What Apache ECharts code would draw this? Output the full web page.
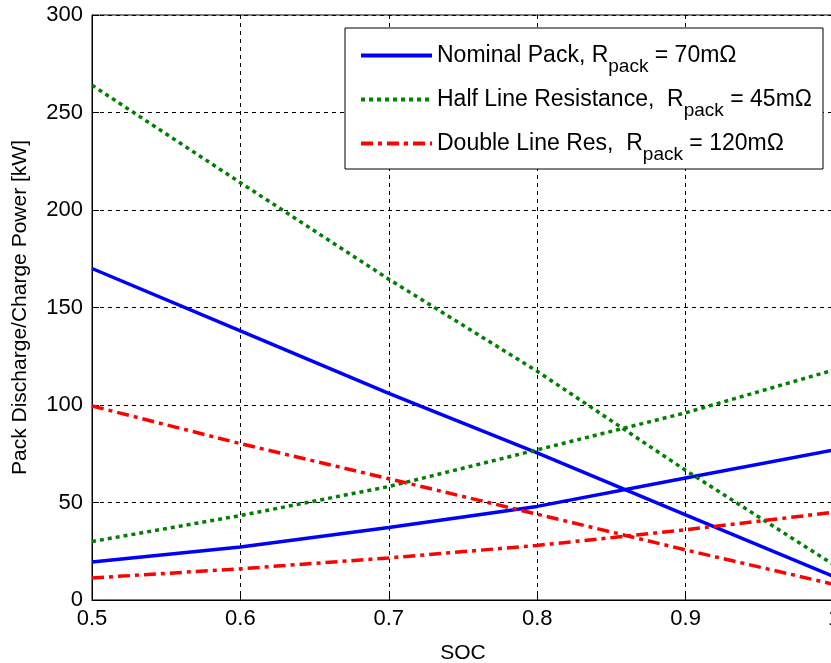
<!DOCTYPE html>
<html>
<head>
<meta charset="utf-8">
<script src="https://cdn.jsdelivr.net/npm/echarts@6/dist/echarts.min.js"></script>
<style>
  html, body { margin: 0; padding: 0; background: #fff; }
  #chart { width: 831px; height: 663px; }
</style>
</head>
<body>
<div id="chart"></div>
<script>
// SOC points
const soc = [0.5, 0.6, 0.7, 0.8, 0.9, 1.0]

// nominal pack, 70 mOhm
const nominalDischarge = [170, 138, 106, 75.5, 43.7, 12]
const nominalCharge = [19.5, 27.2, 37.2, 48, 62.6, 77]
// half line resistance, 45 mOhm
const halfDischarge = [264, 214, 164.5, 117.3, 66.5, 18]
const halfCharge = [30, 43.3, 58.2, 77, 96, 118]
// double line resistance, 120 mOhm
const doubleDischarge = [99.5, 80.2, 62.2, 44, 25.7, 8]
const doubleCharge = [11.3, 16, 21.6, 28, 36, 45]

const legendNames = ['Nominal Pack', 'Half Line Resistance', 'Double Line Res']
const legendText = {
  'Nominal Pack': '{a|Nominal Pack, R}{s|pack}{a| = 70m\u03A9}',
  'Half Line Resistance': '{a|Half Line Resistance,  R}{s|pack}{a| = 45m\u03A9}',
  'Double Line Res': '{a|Double Line Res,  R}{s|pack}{a| = 120m\u03A9}'
}

const font = '"Liberation Sans", Arial, sans-serif'
const pairs = vals => soc.map((x, i) => [x, vals[i]])

const styles = {
  'Nominal Pack': { color: '#0000ff', width: 3.5, type: 'solid' },
  'Half Line Resistance': { color: '#008000', width: 3.5, type: [4, 4] },
  'Double Line Res': { color: '#ff0000', width: 3.5, type: [12, 5, 4, 5] }
}

function makeSeries (name, vals) {
  const st = styles[name]
  return {
    name,
    type: 'line',
    symbol: 'none',
    animation: false,
    color: st.color,
    lineStyle: { color: st.color, width: st.width, type: st.type },
    data: pairs(vals)
  }
}

const chart = echarts.init(document.getElementById('chart'))
chart.setOption({
  backgroundColor: '#fff',
  textStyle: { fontFamily: font },
  grid: {
    left: 92,
    top: 15,
    width: 742,
    height: 585,
    outerBoundsMode: 'none',
    containLabel: false,
    show: true,
    borderColor: '#000',
    borderWidth: 1
  },
  legend: {
    data: legendNames,
    orient: 'vertical',
    left: 345,
    top: 28,
    itemWidth: 71,
    itemHeight: 14,
    itemGap: 12,
    padding: [16, 11, 5, 14],
    backgroundColor: '#fff',
    borderColor: '#000',
    borderWidth: 1,
    itemStyle: { opacity: 0 },
    lineStyle: { width: 4 },
    formatter: name => legendText[name],
    textStyle: {
      rich: {
        a: { fontSize: 23, color: '#000', fontFamily: font },
        s: { fontSize: 19, color: '#000', fontFamily: font, padding: [22, 0, 0, 0] }
      }
    }
  },
  xAxis: {
    type: 'value',
    min: 0.5,
    max: 1.0,
    interval: 0.1,
    name: 'SOC',
    nameLocation: 'middle',
    nameGap: 43,
    nameTextStyle: { fontSize: 21, color: '#000', fontFamily: font },
    axisLine: { lineStyle: { color: '#000', width: 1 } },
    axisTick: { inside: true, length: 7, lineStyle: { color: '#000' } },
    axisLabel: { fontSize: 22, color: '#000', margin: 8, fontFamily: font },
    splitLine: { show: true, lineStyle: { color: '#000', width: 1, type: [4, 4] } }
  },
  yAxis: {
    type: 'value',
    min: 0,
    max: 300,
    interval: 50,
    name: 'Pack Discharge/Charge Power [kW]',
    nameLocation: 'middle',
    nameGap: 61,
    nameTextStyle: { fontSize: 21, color: '#000', fontFamily: font },
    axisLine: { show: true, lineStyle: { color: '#000', width: 1 } },
    axisTick: { show: true, inside: true, length: 7, lineStyle: { color: '#000' } },
    axisLabel: { fontSize: 22, color: '#000', margin: 9, fontFamily: font },
    splitLine: { show: true, lineStyle: { color: '#000', width: 1, type: [4, 4] } }
  },
  series: [
    makeSeries('Nominal Pack', nominalDischarge),
    makeSeries('Nominal Pack', nominalCharge),
    makeSeries('Half Line Resistance', halfDischarge),
    makeSeries('Half Line Resistance', halfCharge),
    makeSeries('Double Line Res', doubleDischarge),
    makeSeries('Double Line Res', doubleCharge)
  ]
})
</script>
</body>
</html>
